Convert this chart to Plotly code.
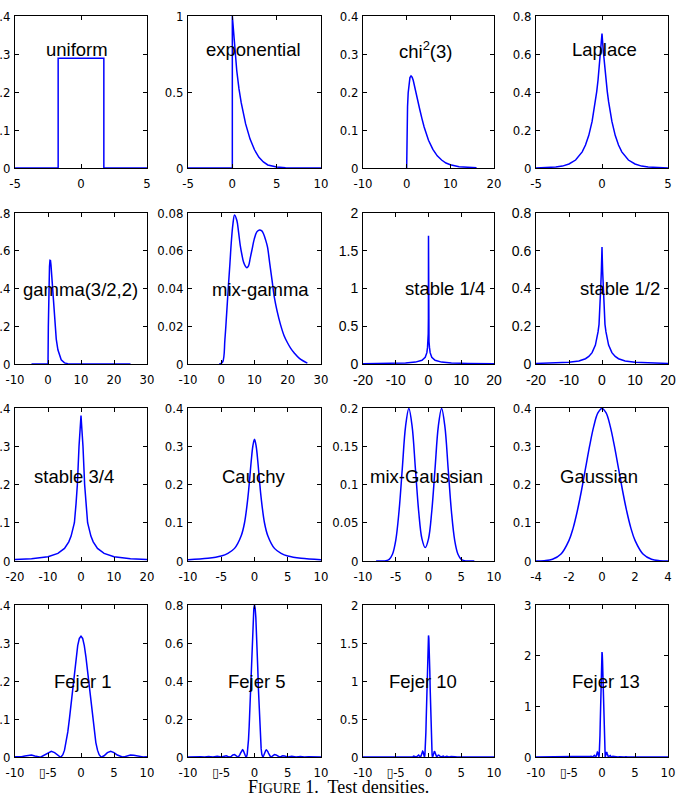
import plotly.graph_objects as go

W, H = 676, 796

# ---------------- data ----------------
uniform_x = [-5, -1.73, -1.73, 1.73, 1.73, 5]
uniform_y = [0, 0, 0.289, 0.289, 0, 0]

exp_x = [-5, 0, 0, 0.25, 0.5, 0.75, 1, 1.5, 2, 2.5, 3, 3.5, 4, 5, 6, 8, 10]
exp_y = [0, 0, 1.0, 0.8, 0.64, 0.52, 0.43, 0.29, 0.19, 0.12, 0.07, 0.04, 0.02, 0.006, 0.002, 0.0005, 0]

chi2_x = [0, 0.02, 0.05, 0.1, 0.2, 0.35, 0.5, 0.75, 1, 1.25, 1.5, 2, 2.5, 3, 3.5, 4, 5, 6, 7, 8, 9, 10, 12, 14, 16]
chi2_y = [0, 0.056, 0.087, 0.120, 0.161, 0.198, 0.220, 0.238, 0.242, 0.239, 0.231, 0.208, 0.181, 0.154, 0.130,
          0.108, 0.073, 0.049, 0.032, 0.021, 0.013, 0.0085, 0.0034, 0.0014, 0.0005]

laplace_xh = [0, 0.1, 0.2, 0.3, 0.4, 0.5, 0.75, 1, 1.25, 1.5, 2, 2.5, 3, 3.5, 4, 5]
laplace_yh = [0.707, 0.614, 0.533, 0.463, 0.402, 0.349, 0.245, 0.172, 0.121, 0.085, 0.042, 0.021, 0.010, 0.005, 0.0025, 0.0006]

gamma_x = [-5, 0, 0.1, 0.2, 0.3, 0.45, 0.6, 0.75, 0.9, 1.1, 1.3, 1.6, 2, 2.5, 3, 3.5, 4, 5, 6, 8, 25]
gamma_y = [0, 0, 0.194, 0.333, 0.430, 0.516, 0.549, 0.548, 0.525, 0.475, 0.416, 0.327, 0.224, 0.132, 0.075,
           0.041, 0.022, 0.006, 0.0017, 0.0001, 0]

mixgamma_x = [-0.6, 0.4, 1.1, 1.6, 2.1, 2.6, 3.0, 3.5, 4.0, 4.7, 5.2, 5.7, 6.2, 6.7, 7.2, 7.7, 8.2, 8.7, 9.3,
              9.9, 10.7, 11.5, 12.2, 12.7, 13.3, 13.9, 14.6, 15.3, 16.0, 16.8, 17.8, 18.9, 20.0, 21.0, 21.9, 23.5, 25.9]
mixgamma_y = [0, 0.001, 0.013, 0.026, 0.040, 0.053, 0.064, 0.074, 0.079, 0.076, 0.070, 0.063, 0.058, 0.054,
              0.052, 0.051, 0.052, 0.056, 0.061, 0.066, 0.070, 0.071, 0.0705, 0.069, 0.066, 0.062, 0.053, 0.044,
              0.035, 0.028, 0.021, 0.015, 0.011, 0.008, 0.006, 0.003, 0.0005]

stable14_xh = [0, 0.01, 0.03, 0.08, 0.15, 0.3, 0.5, 1, 2, 4, 7, 12, 20]
stable14_yh = [1.7, 1.0, 0.6, 0.4, 0.3, 0.22, 0.15, 0.09, 0.05, 0.025, 0.014, 0.008, 0.004]

stable12_xh = [0, 0.1, 0.2, 0.4, 0.6, 0.9, 1.2, 1.5, 2, 3, 4, 5, 7, 10, 15, 20]
stable12_yh = [0.62, 0.55, 0.49, 0.40, 0.30, 0.21, 0.17, 0.14, 0.10, 0.06, 0.04, 0.028, 0.016, 0.009, 0.005, 0.003]

stable34_xh = [0, 0.3, 0.6, 1.1, 1.5, 2, 3, 3.7, 5, 7, 10, 15, 20]
stable34_yh = [0.38, 0.34, 0.30, 0.20, 0.15, 0.10, 0.065, 0.05, 0.033, 0.02, 0.011, 0.006, 0.004]

cauchy_xh = [0, 0.25, 0.5, 0.75, 1, 1.5, 2, 3, 4, 5, 7, 10]
cauchy_yh = [0.318, 0.30, 0.26, 0.21, 0.165, 0.10, 0.066, 0.033, 0.02, 0.013, 0.007, 0.0035]

mixgauss_x = [-8, -7, -6.5, -6, -5.5, -5, -4.5, -4, -3.5, -3, -2.5, -2, -1.5, -1, -0.5, 0, 0.5, 1, 1.5, 2,
              2.5, 3, 3.5, 4, 4.5, 5, 5.5, 6, 7]
mixgauss_y = [0, 0, 0.0004, 0.0022, 0.0088, 0.027, 0.065, 0.121, 0.176, 0.1995, 0.176, 0.121, 0.065, 0.029,
              0.0175, 0.029, 0.065, 0.121, 0.176, 0.1995, 0.176, 0.121, 0.065, 0.027, 0.0088, 0.0022, 0.0004, 0, 0]

gauss_xh = [0, 0.25, 0.5, 0.75, 1, 1.25, 1.5, 1.75, 2, 2.5, 3, 3.5, 4]
gauss_yh = [0.399, 0.387, 0.352, 0.301, 0.242, 0.183, 0.130, 0.086, 0.054, 0.0175, 0.0044, 0.0009, 0.0001]

fejer1_xh = [0, 0.25, 0.5, 0.75, 1, 1.25, 1.5, 1.75, 2, 2.25, 2.5, 2.75, 3, 3.14, 3.5, 4, 4.5, 5, 5.5, 6, 6.28,
             6.5, 7, 7.5, 8, 8.5, 9, 9.42, 10]
fejer1_yh = [0.318, 0.312, 0.293, 0.263, 0.225, 0.184, 0.141, 0.101, 0.066, 0.038, 0.018, 0.006, 0.0007, 0,
             0.0032, 0.0114, 0.015, 0.0117, 0.0052, 0.0007, 0, 0.0004, 0.0028, 0.005, 0.0049, 0.0028, 0.0007, 0, 0.0009]

fejer5_xh = [0, 0.1, 0.2, 0.3, 0.4, 0.5, 0.6, 0.7, 0.8, 0.9, 1.0, 1.1, 1.2, 1.25, 1.3, 1.4, 1.5, 1.6, 1.7, 1.8,
             1.9, 2.0, 2.1, 2.2, 2.3, 2.4, 2.5, 2.75, 3.0, 3.25, 3.5, 3.75, 4.0, 4.25, 4.5, 4.75, 5.0, 5.6, 6.25,
             6.9, 7.5, 8.1, 8.75, 9.4, 10]
fejer5_yh = [0.8, 0.783, 0.735, 0.660, 0.565, 0.458, 0.350, 0.249, 0.162, 0.093, 0.044, 0.014, 0.0014, 0,
             0.0012, 0.0088, 0.0194, 0.0294, 0.0359, 0.0377, 0.0349, 0.0286, 0.0205, 0.0123, 0.0056, 0.0014, 0,
             0.0058, 0.0127, 0.0108, 0.0036, 0, 0.0027, 0.0063, 0.0057, 0.0019, 0, 0.004, 0, 0.0027, 0, 0.0019,
             0, 0.0014, 0]

fejer10_xh = [0, 0.05, 0.1, 0.15, 0.2, 0.25, 0.3, 0.35, 0.4, 0.45, 0.5, 0.55, 0.6, 0.625, 0.65, 0.7, 0.75, 0.8,
              0.85, 0.9, 0.95, 1.0, 1.05, 1.1, 1.15, 1.2, 1.25, 1.375, 1.5, 1.625, 1.75, 1.875, 2.0, 2.125, 2.25,
              2.375, 2.5, 2.8, 3.125, 3.45, 3.75, 4.05, 4.375, 4.7, 5, 10]
fejer10_yh = [1.6, 1.566, 1.47, 1.32, 1.13, 0.916, 0.70, 0.498, 0.324, 0.186, 0.088, 0.028, 0.0028, 0, 0.0024,
              0.0176, 0.0388, 0.0588, 0.0718, 0.0754, 0.0698, 0.0572, 0.041, 0.0246, 0.0112, 0.0028, 0, 0.0116,
              0.0254, 0.0216, 0.0072, 0, 0.0054, 0.0126, 0.0114, 0.0038, 0, 0.008, 0, 0.0054, 0, 0.0038, 0,
              0.0028, 0, 0]

fejer13_xh = [0, 0.039, 0.077, 0.116, 0.155, 0.193, 0.232, 0.271, 0.309, 0.348, 0.387, 0.425, 0.464, 0.483,
              0.503, 0.541, 0.580, 0.619, 0.657, 0.696, 0.734, 0.773, 0.812, 0.851, 0.889, 0.928, 0.967, 1.063,
              1.16, 1.256, 1.353, 1.45, 1.546, 1.643, 1.74, 1.836, 1.933, 2.165, 2.416, 2.668, 2.9, 3.13, 3.38,
              3.63, 3.87, 10]
fejer13_yh = [2.07, 2.026, 1.902, 1.708, 1.462, 1.185, 0.906, 0.644, 0.419, 0.240, 0.113, 0.037, 0.0036, 0,
              0.0031, 0.0228, 0.0502, 0.0761, 0.0929, 0.0975, 0.0903, 0.074, 0.053, 0.0318, 0.0145, 0.0036, 0,
              0.015, 0.0329, 0.0279, 0.0093, 0, 0.007, 0.0163, 0.0147, 0.0049, 0, 0.0104, 0, 0.007, 0, 0.005, 0,
              0.0037, 0, 0]

titles = ["uniform", "exponential", "chi<sup>2</sup>(3)", "Laplace",
          "gamma(3/2,2)", "mix-gamma", "stable 1/4", "stable 1/2",
          "stable 3/4", "Cauchy", "mix-Gaussian", "Gaussian",
          "Fejer 1", "Fejer 5", "Fejer 10", "Fejer 13"]

x_ranges = [(-5, 5), (-5, 10), (-10, 20), (-5, 5),
            (-10, 30), (-10, 30), (-20, 20), (-20, 20),
            (-20, 20), (-10, 10), (-10, 10), (-4, 4),
            (-10, 10), (-10, 10), (-10, 10), (-10, 10)]
y_ranges = [(0, 0.4), (0, 1), (0, 0.4), (0, 0.8),
            (0, 0.8), (0, 0.08), (0, 2), (0, 0.8),
            (0, 0.4), (0, 0.4), (0, 0.2), (0, 0.4),
            (0, 0.4), (0, 0.8), (0, 2), (0, 3)]

x_ticks = [[-5, 0, 5], [-5, 0, 5, 10], [-10, 0, 10, 20], [-5, 0, 5],
           [-10, 0, 10, 20, 30], [-10, 0, 10, 20, 30], [-20, -10, 0, 10, 20], [-20, -10, 0, 10, 20],
           [-20, -10, 0, 10, 20], [-10, -5, 0, 5, 10], [-10, -5, 0, 5, 10], [-4, -2, 0, 2, 4],
           [-10, -5, 0, 5, 10], [-10, -5, 0, 5, 10], [-10, -5, 0, 5, 10], [-10, -5, 0, 5, 10]]
fejer_x_labels = ["-10", "\u25af-5", "0", "5", "10"]

y_ticks = [[0, 0.1, 0.2, 0.3, 0.4], [0, 0.5, 1], [0, 0.1, 0.2, 0.3, 0.4], [0, 0.2, 0.4, 0.6, 0.8],
           [0, 0.2, 0.4, 0.6, 0.8], [0, 0.02, 0.04, 0.06, 0.08], [0, 0.5, 1, 1.5, 2], [0, 0.2, 0.4, 0.6, 0.8],
           [0, 0.1, 0.2, 0.3, 0.4], [0, 0.1, 0.2, 0.3, 0.4], [0, 0.05, 0.1, 0.15, 0.2], [0, 0.1, 0.2, 0.3, 0.4],
           [0, 0.1, 0.2, 0.3, 0.4], [0, 0.2, 0.4, 0.6, 0.8], [0, 0.5, 1, 1.5, 2], [0, 1, 2, 3]]


def mirror(xh, yh):
    xs = [-v for v in reversed(xh[1:])] + list(xh)
    ys = list(reversed(yh[1:])) + list(yh)
    return xs, ys


curves = [
    (uniform_x, uniform_y, "linear"),
    (exp_x, exp_y, "linear"),
    (chi2_x, chi2_y, "linear"),
    (*mirror(laplace_xh, laplace_yh), "linear"),
    (gamma_x, gamma_y, "linear"),
    (mixgamma_x, mixgamma_y, "spline"),
    (*mirror(stable14_xh, stable14_yh), "linear"),
    (*mirror(stable12_xh, stable12_yh), "linear"),
    (*mirror(stable34_xh, stable34_yh), "linear"),
    (*mirror(cauchy_xh, cauchy_yh), "spline"),
    (mixgauss_x, mixgauss_y, "spline"),
    (*mirror(gauss_xh, gauss_yh), "spline"),
    (*mirror(fejer1_xh, fejer1_yh), "linear"),
    (*mirror(fejer5_xh, fejer5_yh), "linear"),
    (*mirror(fejer10_xh, fejer10_yh), "linear"),
    (*mirror(fejer13_xh, fejer13_yh), "linear"),
]

# ---------------- layout (pixel geometry) ----------------
col_px = [(15, 147), (188, 321), (363, 494), (536, 668)]
row_px = [(16, 168), (213, 364), (408, 561), (605, 757)]
title_px = [(77, 50), (254, 50), (425, 50), (604, 50),
            (80, 289), (260, 289), (445, 288), (620, 288),
            (74, 476), (254, 476), (426, 476), (599, 476),
            (83, 681), (257, 681), (423, 681), (606, 681)]
wide_tick_panels = {6, 7}

narrow_font = dict(family="Liberation Sans Narrow, Arial Narrow, DejaVu Sans Condensed, sans-serif",
                   size=13, color="black")
wide_font = dict(family="Liberation Sans, Arial, sans-serif", size=14, color="black")


def fmt(v):
    return "%g" % v


fig = go.Figure()
annotations = []
for i in range(16):
    r, c = divmod(i, 4)
    n = i + 1
    xa = "x" if n == 1 else "x%d" % n
    ya = "y" if n == 1 else "y%d" % n
    xs, ys, shape = curves[i]
    fig.add_trace(go.Scatter(x=xs, y=ys, mode="lines", xaxis=xa, yaxis=ya,
                             line=dict(color="#0000ff", width=1.5, shape=shape),
                             showlegend=False, hoverinfo="skip"))
    x0, x1 = col_px[c]
    y0, y1 = row_px[r]
    tf = wide_font if i in wide_tick_panels else narrow_font
    xt = x_ticks[i]
    xtext = fejer_x_labels if r == 3 else [fmt(v) for v in xt]
    common = dict(showline=True, linecolor="black", linewidth=1, mirror="ticks",
                  ticks="inside", ticklen=4, tickcolor="black", tickwidth=1, automargin=False,
                  showgrid=False, zeroline=False, tickfont=tf, fixedrange=True)
    fig.layout[("xaxis" if n == 1 else "xaxis%d" % n)] = dict(
        domain=[x0 / W, x1 / W], anchor=ya, range=list(x_ranges[i]),
        tickmode="array", tickvals=xt, ticktext=xtext, ticklabelstandoff=3, **common)
    yt = y_ticks[i]
    fig.layout[("yaxis" if n == 1 else "yaxis%d" % n)] = dict(
        domain=[1 - y1 / H, 1 - y0 / H], anchor=xa, range=list(y_ranges[i]),
        tickmode="array", tickvals=yt, ticktext=[fmt(v) for v in yt], ticklabelstandoff=1, **common)
    tx, ty = title_px[i]
    annotations.append(dict(text=titles[i], x=tx / W, y=1 - ty / H, xref="paper", yref="paper",
                            xanchor="center", yanchor="middle", showarrow=False,
                            font=dict(family="Liberation Sans, Arial, sans-serif", size=18.5, color="black")))

annotations.append(dict(text="F<span style='font-size:14px'>IGURE</span> 1.  Test densities.",
                        x=338 / W, y=1 - 787 / H, xref="paper", yref="paper",
                        xanchor="center", yanchor="middle", showarrow=False,
                        font=dict(family="Liberation Serif, DejaVu Serif, serif", size=18, color="black")))

fig.update_layout(width=W, height=H, margin=dict(l=0, r=0, t=0, b=0, autoexpand=False),
                  paper_bgcolor="white", plot_bgcolor="white", annotations=annotations)

fig.write_html("out.html")
